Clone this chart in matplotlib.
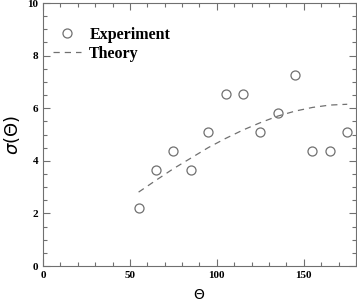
import matplotlib
matplotlib.use('Agg')
import matplotlib.pyplot as plt
from matplotlib.ticker import MultipleLocator

# measured points
theta_exp = [55, 65, 75, 85, 95, 105, 115, 125, 135, 145, 155, 165, 175]
sigma_exp = [2.2, 3.64, 4.36, 3.64, 5.09, 6.53, 6.53, 5.09, 5.81, 7.25, 4.36, 4.36, 5.09]

# theory curve
theta_th = [55, 65, 75, 85, 95, 105, 115, 125, 135, 145, 155, 165, 175]
sigma_th = [2.81, 3.26, 3.70, 4.10, 4.50, 4.85, 5.17, 5.45, 5.70, 5.89, 6.03, 6.12, 6.15]

xticks = [0, 50, 100, 150]
yticks = [0, 2, 4, 6, 8, 10]

grey = '#707070'
plt.rcParams['font.family'] = ['Liberation Serif', 'DejaVu Serif']

fig = plt.figure(figsize=(3.57, 3.04), dpi=100)
ax = fig.add_axes([0.1204, 0.125, 0.8766, 0.865])

ax.plot(theta_exp, sigma_exp, 'o', mfc='none', mec=grey, ms=6.5, mew=0.9, label='Experiment')
ax.plot(theta_th, sigma_th, '--', color=grey, lw=0.9, dashes=(5, 4), label='Theory')

ax.set_xlim(0, 180)
ax.set_ylim(0, 10)
ax.set_xticks(xticks)
ax.set_yticks(yticks)
ax.xaxis.set_minor_locator(MultipleLocator(10))
ax.yaxis.set_minor_locator(MultipleLocator(0.5))
ax.tick_params(which='both', direction='in', top=True, right=True, color=grey, width=0.8)
ax.tick_params(which='major', length=5, labelsize=8)
ax.tick_params(which='minor', length=3)
for lab in ax.get_xticklabels() + ax.get_yticklabels():
    lab.set_fontweight('bold')
for s in ax.spines.values():
    s.set_color(grey)
    s.set_linewidth(0.8)

ax.set_xlabel(r'$\Theta$', fontsize=10, labelpad=6)
ax.set_ylabel(r'$\sigma\left(\Theta\right)$', fontsize=13, labelpad=4)

leg = ax.legend(loc='upper left', bbox_to_anchor=(0.0, 0.947), frameon=False,
                handlelength=1.75, handletextpad=0.55, labelspacing=0.2,
                borderaxespad=0.2, prop={'weight': 'bold', 'size': 11.5})

fig.savefig('out.png', dpi=100)
